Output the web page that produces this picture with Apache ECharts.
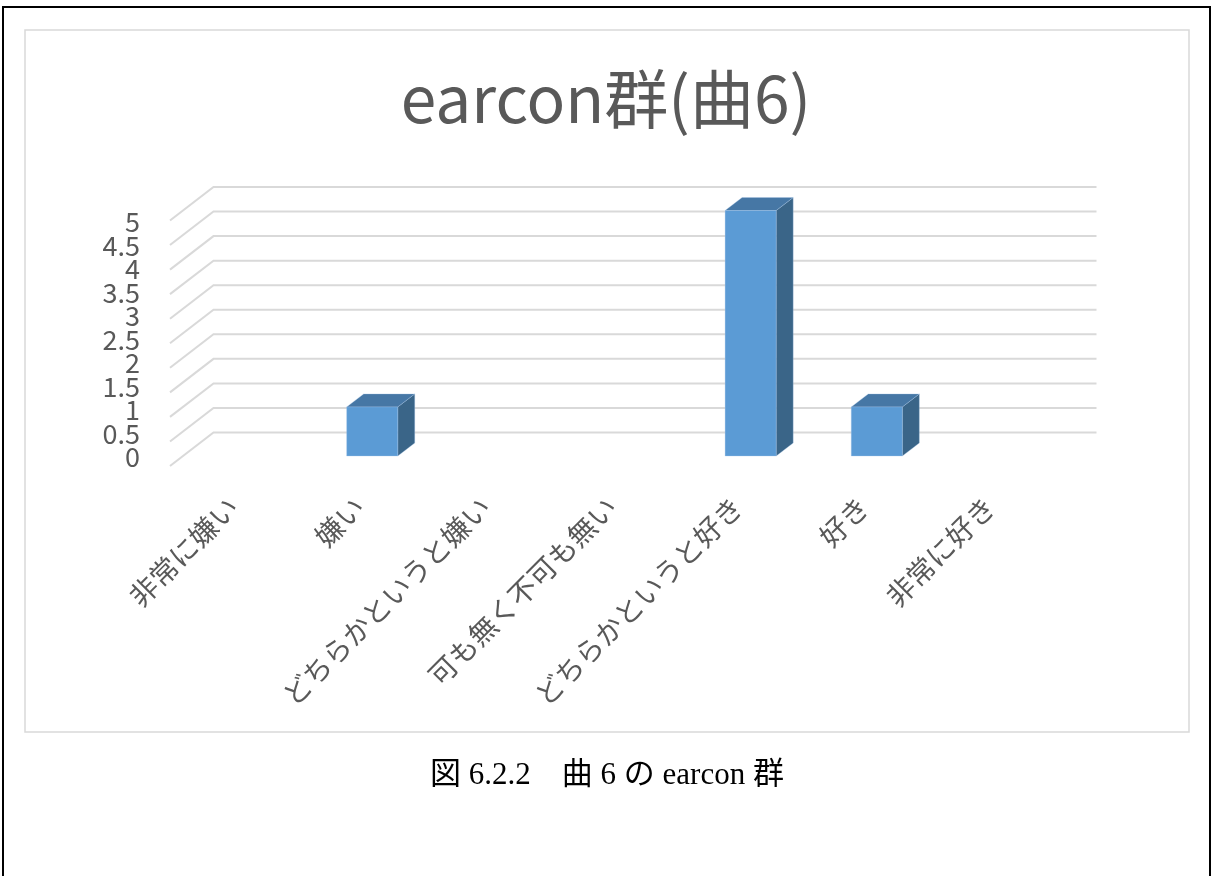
<!DOCTYPE html>
<html>
<head>
<meta charset="utf-8">
<script src="https://cdn.jsdelivr.net/npm/echarts@6/dist/echarts.min.js"></script>
<style>
  html, body { margin: 0; padding: 0; background: #fff; }
  #chart { width: 1212px; height: 876px; }
</style>
</head>
<body>
<div id="chart"></div>
<script>
// ---- data ----
const categories = ['非常に嫌い', '嫌い', 'どちらかというと嫌い', '可も無く不可も無い', 'どちらかというと好き', '好き', '非常に好き'];
const values = [0, 1, 0, 0, 5, 1, 0];
const yTicks = [0, 0.5, 1, 1.5, 2, 2.5, 3, 3.5, 4, 4.5, 5];
const yTickLabels = ['0', '0.5', '1', '1.5', '2', '2.5', '3', '3.5', '4', '4.5', '5'];
const titleText = 'earcon群(曲6)';
const captionText = '図 6.2.2　曲 6 の earcon 群';

// ---- oblique 3D offsets (style) ----
const FRONT = { dx: -13, dy: 10 };     // label plane relative to bar front plane
const BACK = { dx: 30.5, dy: -23.5 };  // back wall relative to bar front plane
const BAR_D = { dx: 17, dy: -13 };     // bar depth
const TEXT = '#595959';
const JP = '"Noto Sans CJK JP", "Noto Sans", sans-serif';

const chart = echarts.init(document.getElementById('chart'), null, { renderer: 'canvas' });

const option = {
  animation: false,
  backgroundColor: '#ffffff',
  title: {
    text: titleText,
    left: 'center',
    top: 62,
    textStyle: { fontSize: 64, fontWeight: 'normal', color: TEXT, fontFamily: JP }
  },
  graphic: [
    { type: 'rect', silent: true, shape: { x: 3, y: 7, width: 1207, height: 900 },
      style: { fill: 'none', stroke: '#000', lineWidth: 2 } },
    { type: 'rect', silent: true, shape: { x: 25, y: 30, width: 1164, height: 702 },
      style: { fill: 'none', stroke: '#D9D9D9', lineWidth: 1.5 } },
    { type: 'text', silent: true, x: 607, y: 776,
      style: { text: captionText, fill: '#000', fontSize: 31,
        fontFamily: '"Liberation Serif", "Noto Sans CJK JP", serif',
        align: 'center', verticalAlign: 'middle' } }
  ],
  grid: [
    { left: 183, top: 210.5, width: 883, height: 245.5 },
    { left: 170, top: 222, width: 883, height: 235 }
  ],
  xAxis: [
    { type: 'category', gridIndex: 0, data: categories, show: false },
    { type: 'category', gridIndex: 1, data: categories,
      axisLine: { show: false }, axisTick: { show: false }, splitLine: { show: false },
      axisLabel: { interval: 0, rotate: 45, margin: 45, fontSize: 28, color: TEXT, fontFamily: JP, hideOverlap: false } }
  ],
  yAxis: [
    { type: 'value', gridIndex: 0, min: 0, max: 5, show: false },
    { type: 'value', gridIndex: 1, min: 0, max: 5, interval: 0.5,
      axisLine: { show: false }, axisTick: { show: false }, splitLine: { show: false },
      axisLabel: { show: false } }
  ],
  series: [
    {
      type: 'custom', name: 'grid', xAxisIndex: 0, yAxisIndex: 0, silent: true, z: 1,
      data: yTicks.map(v => [0, v]),
      renderItem: function (params, api) {
        const cs = params.coordSys;
        const y = api.coord([0, api.value(1)])[1];
        const l = cs.x, r = cs.x + cs.width;
        return {
          type: 'polyline',
          shape: { points: [[l + FRONT.dx, y + FRONT.dy], [l + BACK.dx, y + BACK.dy], [r + BACK.dx, y + BACK.dy]] },
          style: { stroke: '#D9D9D9', lineWidth: 2, fill: 'none' }
        };
      }
    },
    {
      type: 'custom', name: 'yLabels', xAxisIndex: 1, yAxisIndex: 1, silent: true, z: 2,
      data: yTicks.map((v, i) => [0, v, i]),
      renderItem: function (params, api) {
        const cs = params.coordSys;
        const y = api.coord([0, api.value(1)])[1];
        return {
          type: 'text',
          x: cs.x - 30, y: y,
          style: { text: yTickLabels[api.value(2)], fill: TEXT, fontSize: 27, fontFamily: JP,
            align: 'right', verticalAlign: 'middle' }
        };
      }
    },
    {
      type: 'custom', name: 'earcon', xAxisIndex: 0, yAxisIndex: 0, silent: true, z: 5,
      data: values.map((v, i) => [i, v]),
      renderItem: function (params, api) {
        const v = api.value(1);
        if (!v) return { type: 'group', children: [] };
        const p0 = api.coord([api.value(0), 0]);
        const p1 = api.coord([api.value(0), v]);
        const bw = api.size([1, 0])[0] * 0.405;
        const L = p0[0] - bw / 2, R = p0[0] + bw / 2, B = p0[1], T = p1[1];
        const edge = 'rgba(170,200,235,0.55)';
        return {
          type: 'group',
          children: [
            { type: 'polygon', shape: { points: [[R, T], [R + BAR_D.dx, T + BAR_D.dy], [R + BAR_D.dx, B + BAR_D.dy], [R, B]] },
              style: { fill: '#3A6588', stroke: edge, lineWidth: 0.6 } },
            { type: 'polygon', shape: { points: [[L, T], [L + BAR_D.dx, T + BAR_D.dy], [R + BAR_D.dx, T + BAR_D.dy], [R, T]] },
              style: { fill: '#4677A5', stroke: edge, lineWidth: 0.6 } },
            { type: 'rect', shape: { x: L, y: T, width: bw, height: B - T },
              style: { fill: '#5B9BD5', stroke: edge, lineWidth: 0.6 } }
          ]
        };
      }
    }
  ]
};

chart.setOption(option);
</script>
</body>
</html>
